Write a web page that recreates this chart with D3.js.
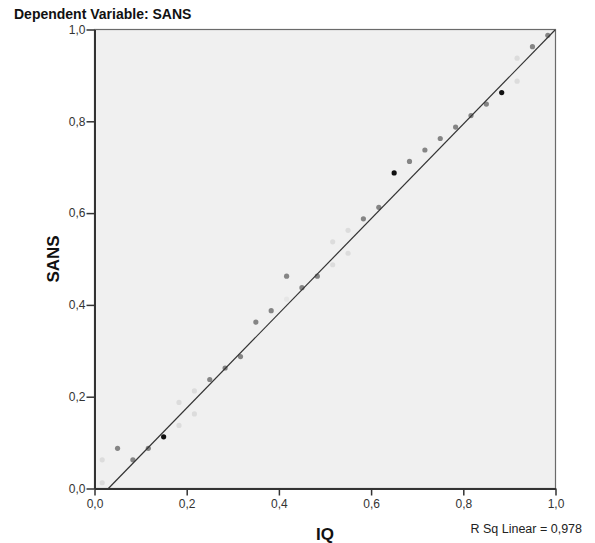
<!DOCTYPE html>
<html><head><meta charset="utf-8">
<script src="https://cdn.jsdelivr.net/npm/d3@7"></script>
<style>body{margin:0;background:#fff;} svg{display:block;font-family:"Liberation Sans",Arial,sans-serif;}</style>
</head><body>
<script>
const xValues = [0.0167,0.0167,0.05,0.0833,0.1167,0.15,0.1833,0.1833,0.2167,0.2167,0.25,0.2833,0.3167,0.35,0.3833,0.4167,0.4167,0.45,0.4833,0.5167,0.5167,0.55,0.55,0.5833,0.6167,0.65,0.6833,0.7167,0.75,0.7833,0.8167,0.85,0.8833,0.9167,0.9167,0.95,0.9833];
const yValues = [0.0625,0.0125,0.0875,0.0625,0.0875,0.1125,0.1875,0.1375,0.2125,0.1625,0.2375,0.2625,0.2875,0.3625,0.3875,0.4625,0.4125,0.4375,0.4625,0.5375,0.4875,0.5625,0.5125,0.5875,0.6125,0.6875,0.7125,0.7375,0.7625,0.7875,0.8125,0.8375,0.8625,0.9375,0.8875,0.9625,0.9875];
const shade = ["faint","faint","mid","mid","mid","dark","faint","faint","faint","faint","mid","mid","mid","mid","mid","mid","vfaint","mid","mid","faint","faint","faint","faint","mid","mid","dark","mid","mid","mid","mid","mid","mid","dark","faint","faint","mid","mid"];
const tickValues = [0,0.2,0.4,0.6,0.8,1.0];
const fitLine = {intercept:-0.031, slope:1.031};
const rSqLabel = "R Sq Linear = 0,978";
const titleText = "Dependent Variable: SANS";
const xLabel = "IQ", yLabel = "SANS";

const W=595,H=543;
const svg=d3.select("body").append("svg").attr("width",W).attr("height",H);
const x=d3.scaleLinear().domain([0,1]).range([94.5,555.5]);
const y=d3.scaleLinear().domain([0,1]).range([488.5,29.5]);
const fmt=v=>d3.format(".1f")(v).replace(".",",");

svg.append("text").attr("x",14).attr("y",19).attr("font-size",14).attr("font-weight","bold").attr("fill","#111").text(titleText);

svg.append("rect").attr("x",x(0)).attr("y",y(1)).attr("width",x(1)-x(0)).attr("height",y(0)-y(1))
  .attr("fill","#f0f0f0").attr("stroke","#6a6a6a").attr("stroke-width",1.2);

const colors={vfaint:"#e6e6e6",faint:"#dcdcdc",mid:"#858585",dark:"#111111"};
const clipId="clip";
svg.append("clipPath").attr("id",clipId).append("rect").attr("x",x(0)).attr("y",y(1)).attr("width",x(1)-x(0)).attr("height",y(0)-y(1));

svg.append("g").selectAll("circle").data(xValues.map((d,i)=>({x:d,y:yValues[i],s:shade[i]})))
  .join("circle").attr("cx",d=>x(d.x)).attr("cy",d=>y(d.y)).attr("r",2.6).attr("fill",d=>colors[d.s]);

const x0=-fitLine.intercept/fitLine.slope, x1=(1-fitLine.intercept)/fitLine.slope;
svg.append("line").attr("clip-path","url(#clip)")
  .attr("x1",x(x0)).attr("y1",y(0)).attr("x2",x(Math.min(1,x1))).attr("y2",y(fitLine.intercept+fitLine.slope*Math.min(1,x1)))
  .attr("stroke","#333").attr("stroke-width",1.2);

const xAxis=svg.append("g").attr("transform",`translate(0,${y(0)})`)
  .call(d3.axisBottom(x).tickValues(tickValues).tickFormat(fmt).tickSize(7).tickSizeOuter(0));
const yAxis=svg.append("g").attr("transform",`translate(${x(0)},0)`)
  .call(d3.axisLeft(y).tickValues(tickValues).tickFormat(fmt).tickSize(8).tickSizeOuter(0));
[xAxis,yAxis].forEach(a=>{
  a.select(".domain").attr("stroke","#333").attr("stroke-width",2);
  a.selectAll(".tick line").attr("stroke","#333").attr("stroke-width",1.5);
  a.selectAll(".tick text").attr("font-size",12).attr("fill","#333").attr("font-family","Liberation Sans,Arial,sans-serif");
});
xAxis.selectAll(".tick text").attr("dy","0.9em").attr("y",9);
yAxis.selectAll(".tick text").attr("x",-9);

svg.append("text").attr("x",(x(0)+x(1))/2).attr("y",540).attr("text-anchor","middle")
  .attr("font-size",17).attr("font-weight","bold").attr("fill","#111").text(xLabel);
svg.append("text").attr("transform",`translate(59,${(y(0)+y(1))/2}) rotate(-90)`).attr("text-anchor","middle")
  .attr("font-size",17).attr("font-weight","bold").attr("fill","#111").text(yLabel);
svg.append("text").attr("x",582).attr("y",533).attr("text-anchor","end").attr("font-size",12.5).attr("fill","#222").text(rSqLabel);
</script>
</body></html>
